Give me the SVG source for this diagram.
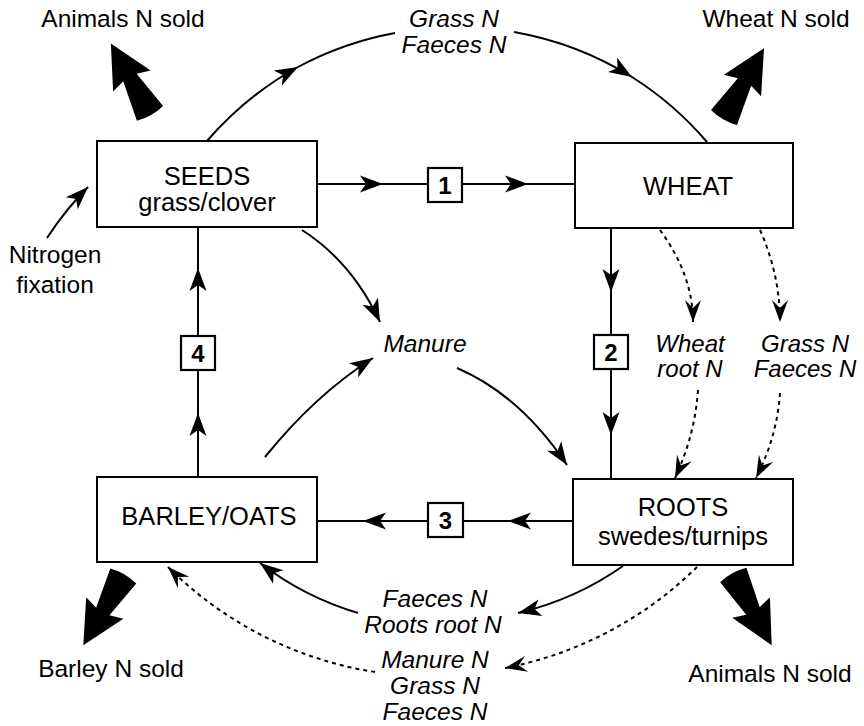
<svg xmlns="http://www.w3.org/2000/svg" xmlns:xlink="http://www.w3.org/1999/xlink" width="864" height="726" viewBox="0 0 864 726">
<style>
.box{fill:#fff;stroke:#000;stroke-width:2}
.nb{fill:#fff;stroke:#000;stroke-width:2.2}
.t{font-family:"Liberation Sans",Arial,sans-serif;font-size:25.5px;text-anchor:middle;fill:#000}
.l{font-family:"Liberation Sans",Arial,sans-serif;font-size:24.5px;text-anchor:middle;fill:#000}
.s{font-size:24px}
.i{font-style:italic}
.n{font-family:"Liberation Sans",Arial,sans-serif;font-size:24px;font-weight:bold;text-anchor:middle;fill:#000}
.c{fill:none;stroke:#000;stroke-width:2}
.d{fill:none;stroke:#000;stroke-width:2;stroke-dasharray:4 4}
.mid{marker-mid:url(#ah)}
.end{marker-end:url(#ah)}
.dend{marker-end:url(#ahd)}
</style>
<defs>
<marker id="ah" viewBox="-25 -10 30 20" markerWidth="30" markerHeight="20" refX="0" refY="0" orient="auto" markerUnits="userSpaceOnUse">
<path d="M0,0 L-23,-8.5 L-17,0 L-23,8.5 Z" fill="#000"/>
</marker>
<marker id="ahd" viewBox="-25 -10 30 20" markerWidth="30" markerHeight="20" refX="0" refY="0" orient="auto" markerUnits="userSpaceOnUse">
<path d="M0,0 L-22,-8 L-14,0 L-22,8 Z" fill="#000"/>
</marker>
<path id="big" d="M0,-15 L41,-7.7 L37,-21.5 L80,0 L37,21.5 L41,7.7 L0,15 Q-4,0 0,-15 Z" fill="#000"/>
</defs>

<g id="connectors">
<path class="c mid" d="M317,184 L383,184 L528,184 L575,184"/>
<path class="c mid" d="M611,228 L611,292 L611,435 L611,479"/>
<path class="c mid" d="M573,521 L508,521 L363,521 L317,521"/>
<path class="c mid" d="M198,477 L198,413 L198,268 L198,227"/>
<path class="c mid" d="M207,141 A334,334 0 0 1 298,67 A334,334 0 0 1 395,33"/>
<path class="c mid" d="M514,32 A334,334 0 0 1 632,77 A334,334 0 0 1 707,142"/>
<path class="c end" d="M47,238 Q66,209 88,187"/>
<path class="c end" d="M302,230 Q352,262 380,322"/>
<path class="c end" d="M265,457 Q315,395 373,358"/>
<path class="c end" d="M457,368 Q520,395 567,465"/>
<path class="c end" d="M623,566 A304,304 0 0 1 518,613"/>
<path class="c end" d="M358,613 A304,304 0 0 1 260,563"/>
<path class="d dend" d="M660,230 Q693,275 693,322"/>
<path class="d dend" d="M760,230 Q780,275 780,322"/>
<path class="d dend" d="M698,390 Q695,435 675,478"/>
<path class="d dend" d="M780,393 Q777,437 756,478"/>
<path class="d dend" d="M697,567 A375,375 0 0 1 505,668"/>
<path class="d dend" d="M375,672 A375,375 0 0 1 168,567"/>
</g>

<g id="sold-arrows">
<use xlink:href="#big" href="#big" transform="translate(150,113.3) rotate(-119.3)"/>
<use xlink:href="#big" href="#big" transform="translate(724,117.5) rotate(-60)"/>
<use xlink:href="#big" href="#big" transform="translate(733.3,575) rotate(61.3)"/>
<use xlink:href="#big" href="#big" transform="translate(123.3,576) rotate(120)"/>
</g>

<g id="seeds">
<rect class="box" x="97" y="141" width="220" height="86"/>
<text class="t" x="207" y="185">SEEDS</text>
<text class="t" x="207" y="211">grass/clover</text>
</g>
<g id="wheat">
<rect class="box" x="575" y="143" width="218" height="85"/>
<text class="t" x="688" y="195">WHEAT</text>
</g>
<g id="roots">
<rect class="box" x="573" y="479" width="220" height="86"/>
<text class="t" x="683" y="516">ROOTS</text>
<text class="t" x="683" y="545">swedes/turnips</text>
</g>
<g id="barley">
<rect class="box" x="97" y="477" width="220" height="85"/>
<text class="t" x="209" y="525">BARLEY/OATS</text>
</g>

<g id="step1"><rect class="nb" x="428" y="168" width="34" height="34"/><text class="n" x="445" y="193.5">1</text></g>
<g id="step2"><rect class="nb" x="594" y="335" width="34" height="34"/><text class="n" x="611" y="360.5">2</text></g>
<g id="step3"><rect class="nb" x="428" y="503" width="35" height="34"/><text class="n" x="445.5" y="528.5">3</text></g>
<g id="step4"><rect class="nb" x="181" y="336" width="34" height="34"/><text class="n" x="198" y="361.5">4</text></g>

<g id="manure"><text class="l i" x="425" y="352">Manure</text></g>
<g id="nitrogen-fixation"><text class="l" x="55" y="263">Nitrogen</text><text class="l" x="55" y="293">fixation</text></g>
<g id="top-flow"><text class="l i" x="454" y="27">Grass N</text><text class="l i" x="454" y="53">Faeces N</text></g>
<g id="wheat-root"><text class="l i s" x="690" y="352">Wheat</text><text class="l i s" x="690" y="377">root N</text></g>
<g id="grass-faeces"><text class="l i s" x="805" y="352">Grass N</text><text class="l i s" x="805" y="377">Faeces N</text></g>
<g id="roots-flow"><text class="l i" x="435" y="607">Faeces N</text><text class="l i" x="433" y="633">Roots root N</text></g>
<g id="manure-flow"><text class="l i" x="435" y="668">Manure N</text><text class="l i" x="435" y="694">Grass N</text><text class="l i" x="435" y="720">Faeces N</text></g>

<g id="sold-labels">
<text class="l" x="123" y="27">Animals N sold</text>
<text class="l" x="776" y="27">Wheat N sold</text>
<text class="l" x="111" y="677">Barley N sold</text>
<text class="l" x="770" y="682">Animals N sold</text>
</g>
</svg>
